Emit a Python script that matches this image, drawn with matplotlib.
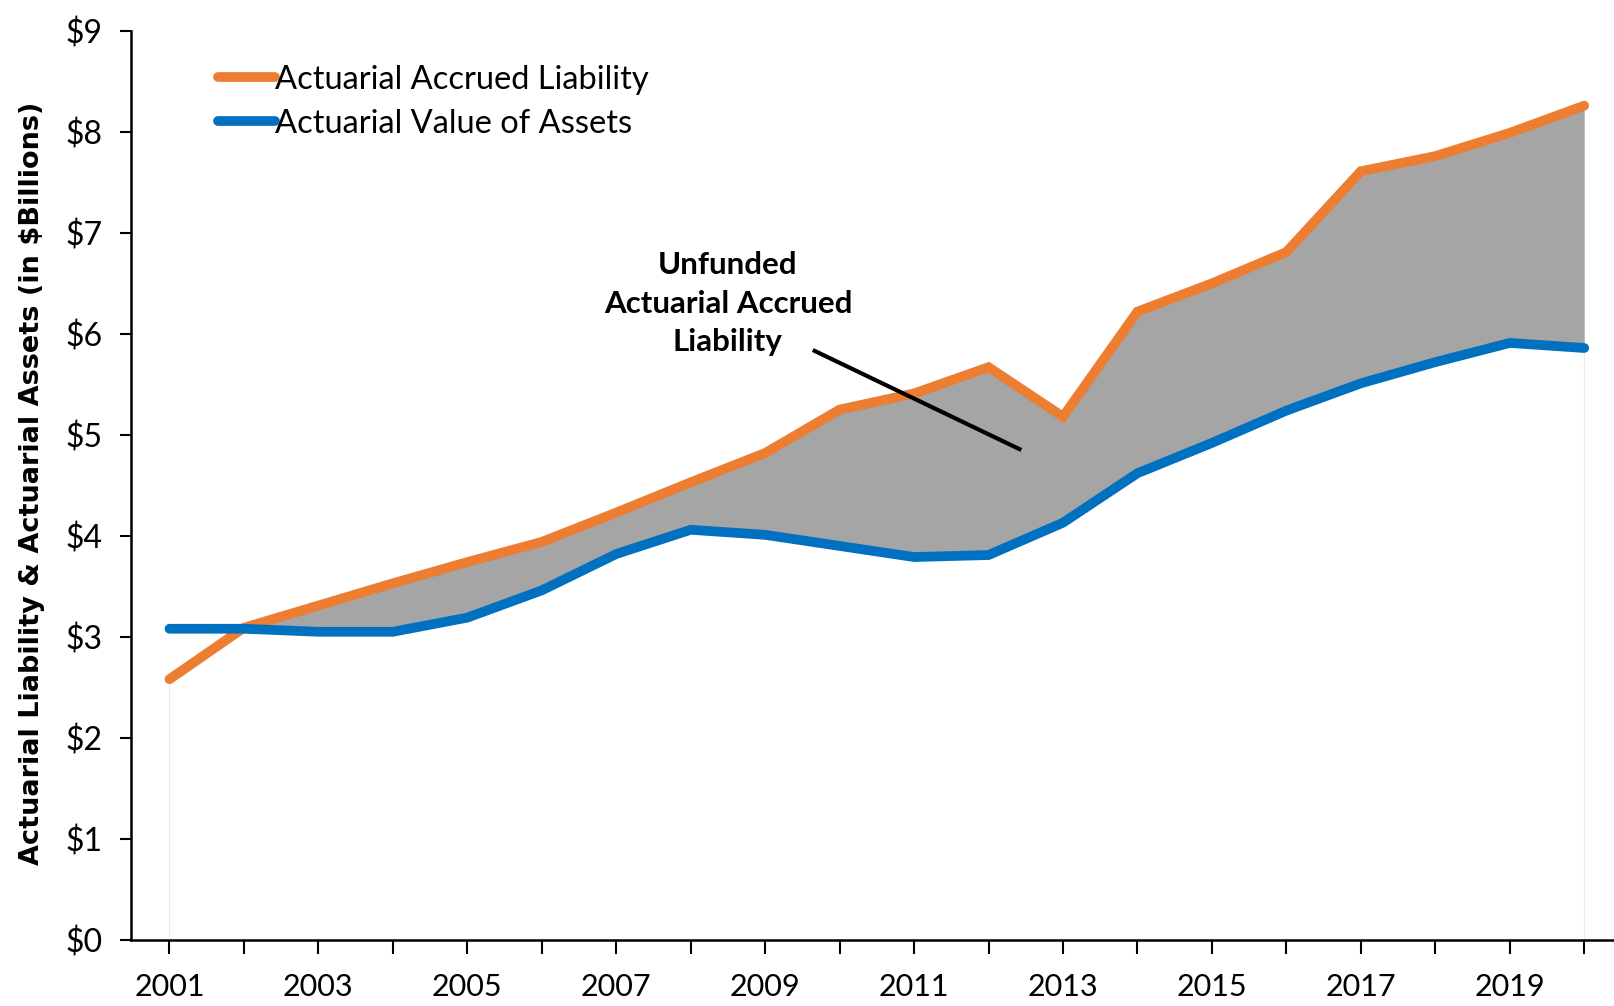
import numpy as np
import matplotlib
matplotlib.use('Agg')
import matplotlib.pyplot as plt

# data ($ billions)
years = np.arange(2001, 2021)
liability = [2.58, 3.09, 3.31, 3.53, 3.74, 3.94, 4.23, 4.53, 4.82, 5.25,
             5.41, 5.67, 5.18, 6.22, 6.50, 6.81, 7.61, 7.76, 7.99, 8.26]
assets = [3.08, 3.08, 3.05, 3.05, 3.19, 3.46, 3.82, 4.06, 4.01, 3.90,
          3.79, 3.81, 4.13, 4.62, 4.92, 5.24, 5.51, 5.72, 5.91, 5.86]
y_ticks = list(range(0, 10))
x_labels = [str(y) for y in range(2001, 2021, 2)]

orange = '#ED7D31'
blue = '#0070C0'
gray = '#A5A5A5'

plt.rcParams['font.family'] = ['Lato', 'DejaVu Sans']

fig = plt.figure(figsize=(16.14, 10.06), dpi=100)
ax = fig.add_axes([0.081, 0.0658, 0.919, 0.9035])

liab = np.array(liability)
ast = np.array(assets)

# unfunded part (gray band between the two lines)
ax.fill_between(years, ast, liab, where=liab >= ast, interpolate=True,
                color=gray, linewidth=0, zorder=1)

# faint area edges at both ends, as in the original area chart
ax.plot([years[0], years[0]], [0, liab[0]], color='#ececec', lw=0.8, zorder=0)
ax.plot([years[-1], years[-1]], [0, ast[-1]], color='#ececec', lw=0.8, zorder=0)

ax.plot(years, liab, color=orange, lw=7, solid_capstyle='round',
        solid_joinstyle='miter', label='Actuarial Accrued Liability', zorder=3)
ax.plot(years, ast, color=blue, lw=7, solid_capstyle='round',
        solid_joinstyle='miter', label='Actuarial Value of Assets', zorder=3)

ax.set_xlim(2000.48, 2020.4)
ax.set_ylim(0, 9)

ax.set_yticks(y_ticks)
ax.set_yticklabels(['$%d' % v for v in y_ticks])
ax.set_xticks(years)
ax.set_xticklabels([s if s in x_labels else '' for s in map(str, years)])

ax.tick_params(axis='y', direction='out', length=8, width=1.5, pad=12,
               labelsize=23)
ax.tick_params(axis='x', direction='out', length=10, width=1.5, pad=14,
               labelsize=22)

for side in ['top', 'right']:
    ax.spines[side].set_visible(False)
for side in ['left', 'bottom']:
    ax.spines[side].set_linewidth(1.8)

fig.text(0.020, 0.52, 'Actuarial Liability & Actuarial Assets (in $Billions)',
         rotation=90, ha='center', va='center', fontsize=19.5,
         fontweight='bold', family=['DejaVu Sans'])

leg = ax.legend(loc='upper left', bbox_to_anchor=(0.05, 0.977),
                frameon=False, fontsize=23.5, handlelength=1.75,
                handletextpad=0.0, labelspacing=0.42, borderaxespad=0)
for h in leg.get_lines():
    h.set_linewidth(7)

ax.text(2008.5, 6.30, 'Unfunded\nActuarial Accrued\nLiability', ha='center',
        va='center', fontsize=22.5, fontweight='bold', linespacing=1.45)
ax.plot([2009.64, 2012.44], [5.84, 4.85], color='black', lw=3, zorder=4,
        solid_capstyle='butt')

fig.savefig('out.png', dpi=100)
